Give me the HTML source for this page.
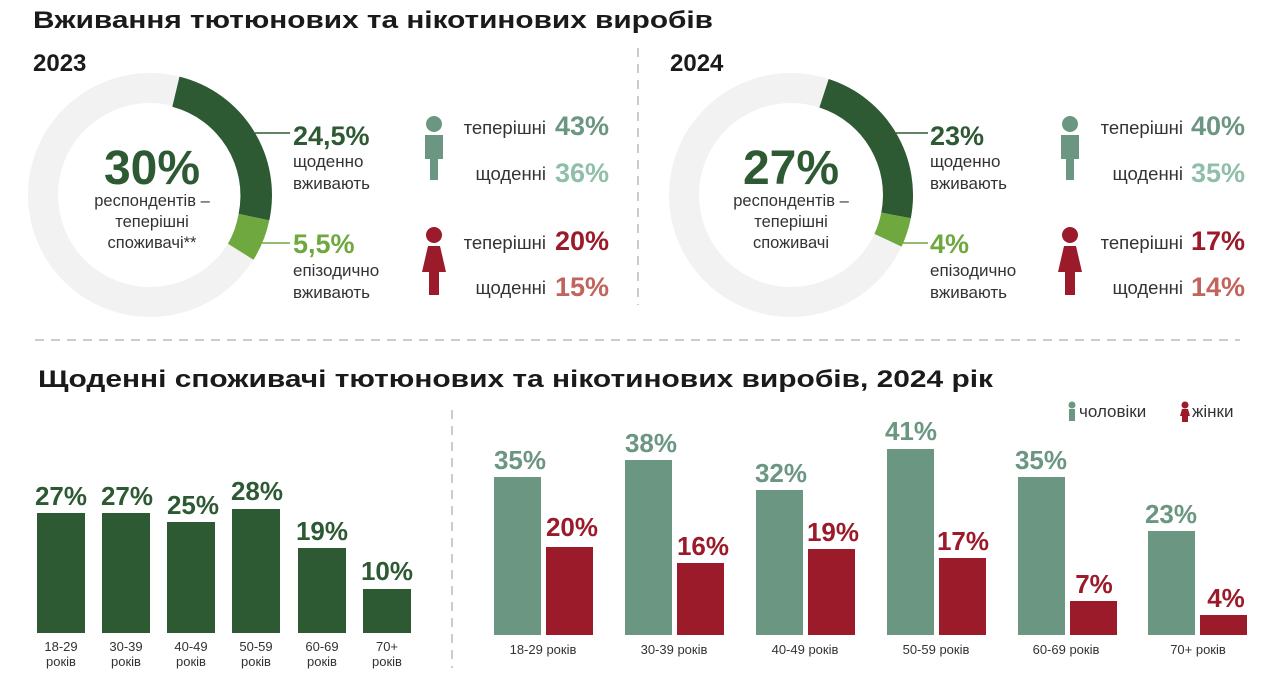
<!DOCTYPE html>
<html><head><meta charset="utf-8"><style>
body{margin:0;background:#fff}
svg{display:block;font-family:"Liberation Sans","DejaVu Sans",sans-serif}
.b{font-weight:bold}
</style></head><body>
<svg width="1280" height="687" viewBox="0 0 1280 687" xmlns="http://www.w3.org/2000/svg">
<text x="33" y="28" class="b" font-size="24" fill="#1a1a1a" textLength="680" lengthAdjust="spacingAndGlyphs">Вживання тютюнових та нікотинових виробів</text>
<text x="33" y="71" class="b" font-size="24" fill="#1a1a1a">2023</text>
<text x="670" y="71" class="b" font-size="24" fill="#1a1a1a">2024</text>
<line x1="638" y1="48" x2="638" y2="305" stroke="#999" stroke-width="1" stroke-dasharray="9,7"/>
<line x1="35" y1="340" x2="1240" y2="340" stroke="#999" stroke-width="1" stroke-dasharray="9,7"/>
<line x1="452" y1="410" x2="452" y2="668" stroke="#999" stroke-width="1" stroke-dasharray="9,7"/>

<!-- donut 2023 -->
<circle cx="150" cy="195" r="107" fill="none" stroke="#f2f2f2" stroke-width="30"/>
<path d="M179.5 76.6 A122 122 0 0 1 269.3 220.4 L238.6 213.9 A92 92 0 0 0 172.3 106.7 Z" fill="#2d5a33"/>
<path d="M269.3 220.4 A122 122 0 0 1 253.5 259.7 L228 243.8 A92 92 0 0 0 238.6 213.9 Z" fill="#6ea83e"/>
<text x="152" y="184" text-anchor="middle" class="b" font-size="48" fill="#2d5a33">30%</text>
<text x="152" y="206" text-anchor="middle" font-size="16.5" fill="#333">респондентів –</text>
<text x="152" y="227" text-anchor="middle" font-size="16.5" fill="#333">теперішні</text>
<text x="152" y="248" text-anchor="middle" font-size="16.5" fill="#333">споживачі**</text>
<line x1="255" y1="133" x2="290" y2="133" stroke="#2d5a33" stroke-width="1.5"/>
<line x1="262" y1="243" x2="290" y2="243" stroke="#6ea83e" stroke-width="1.5"/>
<text x="293" y="145" class="b" font-size="27" fill="#2d5a33">24,5%</text>
<text x="293" y="167" font-size="17" fill="#333">щоденно</text>
<text x="293" y="189" font-size="17" fill="#333">вживають</text>
<text x="293" y="253" class="b" font-size="27" fill="#6ea83e">5,5%</text>
<text x="293" y="276" font-size="17" fill="#333">епізодично</text>
<text x="293" y="298" font-size="17" fill="#333">вживають</text>

<!-- donut 2024 -->
<circle cx="791" cy="195" r="107" fill="none" stroke="#f2f2f2" stroke-width="30"/>
<path d="M828.7 79 A122 122 0 0 1 910.8 218.3 L881.3 212.6 A92 92 0 0 0 819.4 107.5 Z" fill="#2d5a33"/>
<path d="M910.8 218.3 A122 122 0 0 1 901.6 246.6 L874.4 233.9 A92 92 0 0 0 881.3 212.6 Z" fill="#6ea83e"/>
<text x="791" y="184" text-anchor="middle" class="b" font-size="48" fill="#2d5a33">27%</text>
<text x="791" y="206" text-anchor="middle" font-size="16.5" fill="#333">респондентів –</text>
<text x="791" y="227" text-anchor="middle" font-size="16.5" fill="#333">теперішні</text>
<text x="791" y="248" text-anchor="middle" font-size="16.5" fill="#333">споживачі</text>
<line x1="896" y1="133" x2="928" y2="133" stroke="#2d5a33" stroke-width="1.5"/>
<line x1="902" y1="243" x2="928" y2="243" stroke="#6ea83e" stroke-width="1.5"/>
<text x="930" y="145" class="b" font-size="27" fill="#2d5a33">23%</text>
<text x="930" y="167" font-size="17" fill="#333">щоденно</text>
<text x="930" y="189" font-size="17" fill="#333">вживають</text>
<text x="930" y="253" class="b" font-size="27" fill="#6ea83e">4%</text>
<text x="930" y="276" font-size="17" fill="#333">епізодично</text>
<text x="930" y="298" font-size="17" fill="#333">вживають</text>

<!-- people icons -->
<g fill="#6b9681">
<circle cx="434" cy="124" r="8"/><path d="M425 135 h18 v24 h-5 v21 h-8 v-21 h-5 z"/>
<circle cx="1070" cy="124" r="8"/><path d="M1061 135 h18 v24 h-5 v21 h-8 v-21 h-5 z"/>
</g>
<g fill="#9b1b2a">
<circle cx="434" cy="235" r="8"/><path d="M428 246 h12 l6 26 h-7 v23 h-10 v-23 h-7 z"/>
<circle cx="1070" cy="235" r="8"/><path d="M1064 246 h12 l6 26 h-7 v23 h-10 v-23 h-7 z"/>
</g>
<g font-size="18.5" fill="#333">
<text x="546" y="134" text-anchor="end">теперішні</text>
<text x="546" y="180" text-anchor="end">щоденні</text>
<text x="546" y="249" text-anchor="end">теперішні</text>
<text x="546" y="294" text-anchor="end">щоденні</text>
<text x="1183" y="134" text-anchor="end">теперішні</text>
<text x="1183" y="180" text-anchor="end">щоденні</text>
<text x="1183" y="249" text-anchor="end">теперішні</text>
<text x="1183" y="294" text-anchor="end">щоденні</text>
</g>
<g class="b" font-size="27">
<text x="555" y="135" fill="#6b9681">43%</text>
<text x="555" y="182" fill="#8fbfa8">36%</text>
<text x="555" y="250" fill="#9b1b2a">20%</text>
<text x="555" y="296" fill="#c0645c">15%</text>
<text x="1191" y="135" fill="#6b9681">40%</text>
<text x="1191" y="182" fill="#8fbfa8">35%</text>
<text x="1191" y="250" fill="#9b1b2a">17%</text>
<text x="1191" y="296" fill="#c0645c">14%</text>
</g>

<text x="38" y="387" class="b" font-size="24" fill="#1a1a1a" textLength="955" lengthAdjust="spacingAndGlyphs">Щоденні споживачі тютюнових та нікотинових виробів, 2024 рік</text>

<!-- legend -->
<circle cx="1072" cy="405" r="3.5" fill="#6b9681"/><rect x="1069" y="409" width="6" height="12" fill="#6b9681"/>
<text x="1079" y="417" font-size="17" fill="#333">чоловіки</text>
<circle cx="1185" cy="405" r="3.5" fill="#9b1b2a"/><path d="M1182 409 h6 l2 7 h-2 v6 h-6 v-6 h-2 z" fill="#9b1b2a"/>
<text x="1192" y="417" font-size="17" fill="#333">жінки</text>

<!-- left bars -->
<g fill="#2d5a33">
<rect x="37" y="513" width="48" height="120"/>
<rect x="102" y="513" width="48" height="120"/>
<rect x="167" y="522" width="48" height="111"/>
<rect x="232" y="509" width="48" height="124"/>
<rect x="298" y="548" width="48" height="85"/>
<rect x="363" y="589" width="48" height="44"/>
</g>
<g class="b" font-size="26" fill="#2d5a33" text-anchor="middle">
<text x="61" y="505">27%</text><text x="127" y="505">27%</text><text x="193" y="514">25%</text>
<text x="257" y="500">28%</text><text x="322" y="540">19%</text><text x="387" y="580">10%</text>
</g>
<g font-size="13" fill="#333" text-anchor="middle">
<text x="61" y="651">18-29</text><text x="61" y="666">років</text>
<text x="126" y="651">30-39</text><text x="126" y="666">років</text>
<text x="191" y="651">40-49</text><text x="191" y="666">років</text>
<text x="256" y="651">50-59</text><text x="256" y="666">років</text>
<text x="322" y="651">60-69</text><text x="322" y="666">років</text>
<text x="387" y="651">70+</text><text x="387" y="666">років</text>
</g>

<!-- right bars -->
<g fill="#6b9681">
<rect x="494" y="477" width="47" height="158"/>
<rect x="625" y="460" width="47" height="175"/>
<rect x="756" y="490" width="47" height="145"/>
<rect x="887" y="449" width="47" height="186"/>
<rect x="1018" y="477" width="47" height="158"/>
<rect x="1148" y="531" width="47" height="104"/>
</g>
<g fill="#9b1b2a">
<rect x="546" y="547" width="47" height="88"/>
<rect x="677" y="563" width="47" height="72"/>
<rect x="808" y="549" width="47" height="86"/>
<rect x="939" y="558" width="47" height="77"/>
<rect x="1070" y="601" width="47" height="34"/>
<rect x="1200" y="615" width="47" height="20"/>
</g>
<g class="b" font-size="26" text-anchor="middle" fill="#6b9681">
<text x="520" y="469">35%</text><text x="651" y="452">38%</text><text x="781" y="482">32%</text>
<text x="911" y="440">41%</text><text x="1041" y="469">35%</text><text x="1171" y="523">23%</text>
</g>
<g class="b" font-size="26" text-anchor="middle" fill="#9b1b2a">
<text x="572" y="536">20%</text><text x="703" y="555">16%</text><text x="833" y="541">19%</text>
<text x="963" y="550">17%</text><text x="1094" y="593">7%</text><text x="1226" y="607">4%</text>
</g>
<g font-size="13" fill="#333" text-anchor="middle">
<text x="543" y="654">18-29 років</text><text x="674" y="654">30-39 років</text><text x="805" y="654">40-49 років</text>
<text x="936" y="654">50-59 років</text><text x="1066" y="654">60-69 років</text><text x="1198" y="654">70+ років</text>
</g>
</svg>
</body></html>
